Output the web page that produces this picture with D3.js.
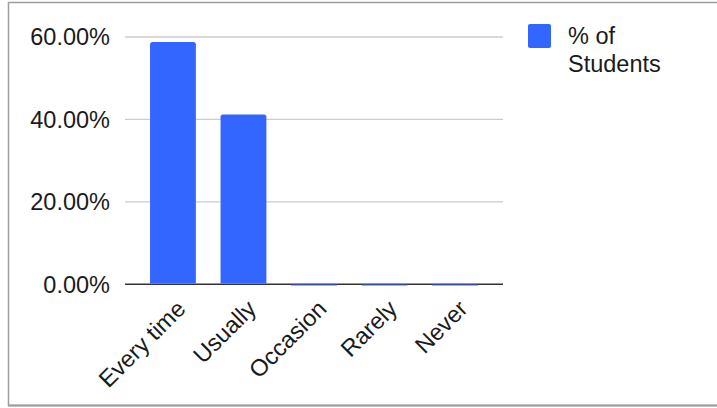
<!DOCTYPE html>
<html><head><meta charset="utf-8">
<script src="https://cdn.jsdelivr.net/npm/d3@7"></script>
<style>
html,body{margin:0;padding:0;background:#fff;}
svg{display:block;font-family:"Liberation Sans",Arial,sans-serif;}
</style></head>
<body>
<svg id="chart" width="717" height="408"></svg>
<script>
const categories = ["Every time", "Usually", "Occasion", "Rarely", "Never"];
const values = [58.8, 41.2, 0, 0, 0];
const yTicks = [0, 20, 40, 60];
const seriesName = ["% of", "Students"];

const svg = d3.select("#chart");
const W = 717, H = 408;
const color = "#3366ff";

// frame
svg.append("rect").attr("x", 8.5).attr("y", 2.5).attr("width", W + 10).attr("height", 403)
  .attr("fill", "#fff").attr("stroke", "#9e9e9e").attr("stroke-width", 1.5);
svg.append("line").attr("x1", 8).attr("x2", W).attr("y1", 405.5).attr("y2", 405.5)
  .attr("stroke", "#9e9e9e").attr("stroke-width", 2);

const x = d3.scaleBand().domain(categories).range([125, 503]).paddingInner(0.35).paddingOuter(0.355);
const y = d3.scaleLinear().domain([0, 60]).range([284.3, 37]);

// gridlines
svg.append("g").selectAll("line").data(yTicks.filter(d => d > 0)).join("line")
  .attr("x1", 125).attr("x2", 503)
  .attr("y1", d => y(d)).attr("y2", d => y(d))
  .attr("stroke", "#cccccc").attr("stroke-width", 1.3);

// y labels
svg.append("g").selectAll("text").data(yTicks).join("text")
  .attr("x", 110).attr("y", d => y(d)).attr("dy", "0.36em")
  .attr("text-anchor", "end").attr("font-size", 23.5).attr("fill", "#1a1a1a")
  .text(d => d3.format(".2f")(d) + "%");

// baseline
svg.append("line").attr("x1", 125).attr("x2", 503).attr("y1", y(0)).attr("y2", y(0))
  .attr("stroke", "#333").attr("stroke-width", 1.6);

// bars
const r = 2.5;
svg.append("g").selectAll("path").data(values.map((v, i) => ({c: categories[i], v}))).join("path")
  .attr("fill", color)
  .attr("d", d => {
    const x0 = x(d.c), w = x.bandwidth();
    if (d.v === 0) {
      const yb = y(0) + 1.3;
      return `M${x0},${yb - 1}H${x0 + w}V${yb}H${x0}Z`;
    }
    const y0 = y(0) - 0.8;
    const yt = y(d.v);
    const rr = Math.min(r, (y0 - yt) / 2);
    return `M${x0},${y0}V${yt + rr}Q${x0},${yt} ${x0 + rr},${yt}H${x0 + w - rr}Q${x0 + w},${yt} ${x0 + w},${yt + rr}V${y0}Z`;
  });

// x labels
svg.append("g").selectAll("text").data(categories).join("text")
  .attr("text-anchor", "end").attr("font-size", 23.5).attr("fill", "#1a1a1a")
  .attr("transform", d => `translate(${x(d) + x.bandwidth() / 2 + 14},${y(0) + 26}) rotate(-45)`)
  .text(d => d);

// legend
svg.append("rect").attr("x", 528).attr("y", 24).attr("width", 23).attr("height", 24).attr("rx", 2)
  .attr("fill", color);
svg.append("text").attr("x", 568).attr("y", 44).attr("font-size", 23.5).attr("fill", "#1a1a1a")
  .selectAll("tspan").data(seriesName).join("tspan")
  .attr("x", 568).attr("dy", (d, i) => i ? 28 : 0).text(d => d);
</script>
</body></html>
